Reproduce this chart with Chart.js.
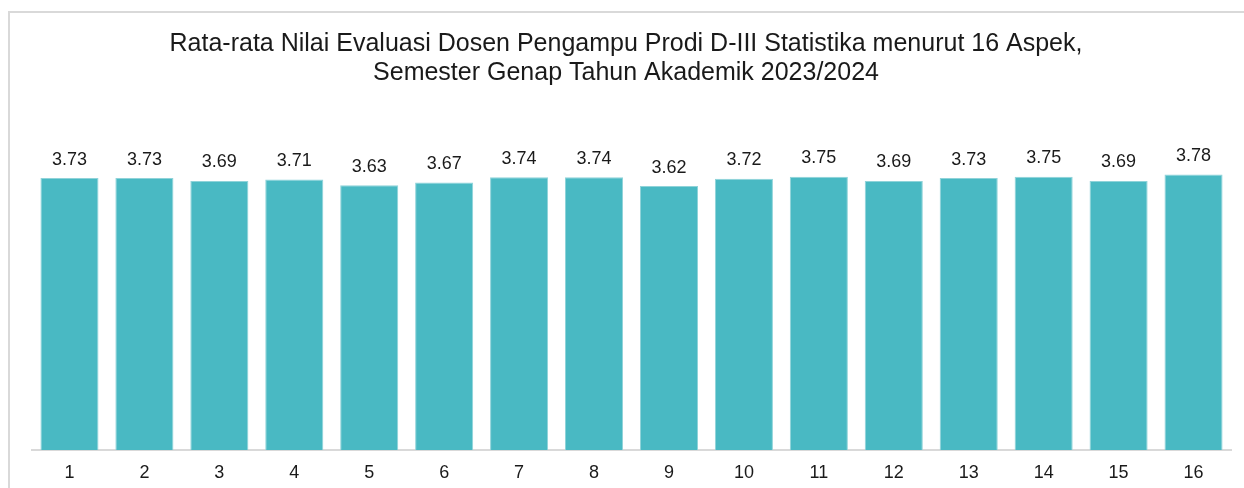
<!DOCTYPE html>
<html>
<head>
<meta charset="utf-8">
<script src="https://cdn.jsdelivr.net/npm/chart.js@4.4.1/dist/chart.umd.min.js"></script>
<style>
  html, body { margin: 0; padding: 0; background: #fff; }
  #wrap { width: 1244px; height: 488px; }
</style>
</head>
<body>
<div id="wrap"><canvas id="c" width="1244" height="488"></canvas></div>
<script>
const categories = ["1","2","3","4","5","6","7","8","9","10","11","12","13","14","15","16"];
const values = [3.73, 3.73, 3.69, 3.71, 3.63, 3.67, 3.74, 3.74, 3.62, 3.72, 3.75, 3.69, 3.73, 3.75, 3.69, 3.78];
const titleLines = [
  "Rata-rata Nilai Evaluasi Dosen Pengampu Prodi D-III Statistika menurut 16 Aspek,",
  "Semester Genap Tahun Akademik 2023/2024"
];

const FONT = "'Liberation Sans', Arial, Helvetica, sans-serif";

const frame = {
  id: 'frame',
  beforeDraw(chart) {
    const ctx = chart.ctx;
    ctx.save();
    ctx.fillStyle = '#ffffff';
    ctx.fillRect(0, 0, chart.width, chart.height);
    ctx.strokeStyle = '#d9d9d9';
    ctx.lineWidth = 2;
    ctx.beginPath();
    ctx.moveTo(9, chart.height);
    ctx.lineTo(9, 12);
    ctx.lineTo(chart.width, 12);
    ctx.stroke();
    // title
    ctx.font = "25px " + FONT;
    ctx.fillStyle = '#1a1a1a';
    ctx.textAlign = 'center';
    ctx.textBaseline = 'middle';
    ctx.fillText(titleLines[0], 626, 44);
    ctx.fillText(titleLines[1], 626, 73);
    ctx.restore();
  }
};

const valueLabels = {
  id: 'valueLabels',
  afterDatasetsDraw(chart) {
    const ctx = chart.ctx;
    const meta = chart.getDatasetMeta(0);
    ctx.save();
    ctx.font = "18px " + FONT;
    ctx.fillStyle = '#1a1a1a';
    ctx.textAlign = 'center';
    ctx.textBaseline = 'alphabetic';
    meta.data.forEach((bar, i) => {
      ctx.fillText(values[i].toFixed(2), bar.x, bar.y - 13.5);
    });
    ctx.restore();
  }
};

new Chart(document.getElementById('c'), {
  type: 'bar',
  data: {
    labels: categories,
    datasets: [{
      data: values,
      backgroundColor: '#49b9c3',
      borderColor: '#8fd3d9',
      borderWidth: 1,
      categoryPercentage: 1.0,
      barPercentage: 0.775
    }]
  },
  options: {
    responsive: false,
    animation: false,
    layout: { padding: { left: 32, right: 13, top: 158.4, bottom: 0 } },
    plugins: {
      legend: { display: false },
      tooltip: { enabled: false },
      title: { display: false }
    },
    scales: {
      x: {
        grid: { display: false, drawTicks: false },
        border: { display: true, color: '#d9d9d9', width: 2 },
        ticks: { color: '#1a1a1a', font: { family: FONT, size: 18 }, padding: 12, maxRotation: 0 },
        afterFit(scale) { scale.height = 38; }
      },
      y: {
        display: false,
        min: 0,
        max: 4
      }
    }
  },
  plugins: [frame, valueLabels]
});
</script>
</body>
</html>
